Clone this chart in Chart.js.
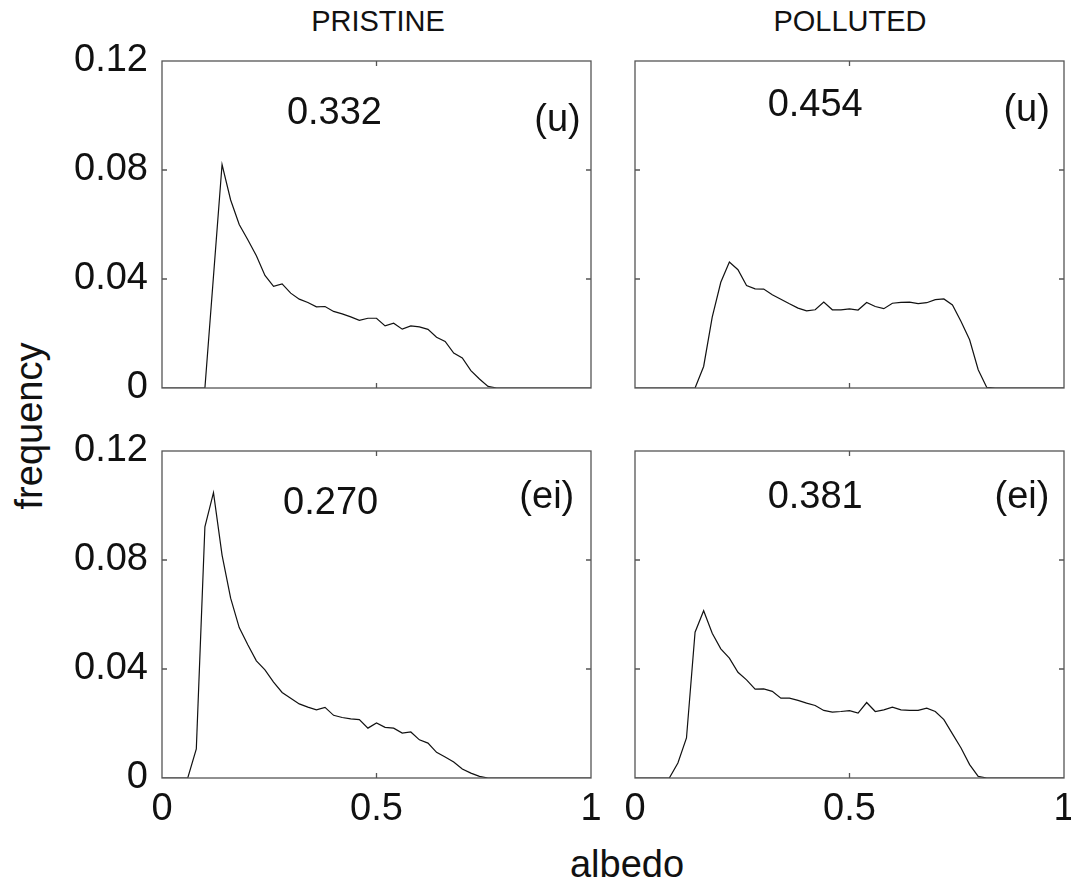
<!DOCTYPE html>
<html>
<head>
<meta charset="utf-8">
<script src="https://cdn.jsdelivr.net/npm/chart.js@4.4.1/dist/chart.umd.min.js"></script>
<style>
  html, body { margin: 0; padding: 0; background: #fff; overflow: hidden; }
  #fig { position: relative; width: 1071px; height: 881px; overflow: hidden;
         font-family: "Liberation Sans", Arial, sans-serif; color: #111; }
  #fig canvas { position: absolute; }
  .lbl { position: absolute; white-space: nowrap; line-height: 1; transform: translate(-50%, -50%); }
</style>
</head>
<body>
<div id="fig">
  <div class="lbl" style="left:378px; top:21px; font-size:29px;">PRISTINE</div>
  <div class="lbl" style="left:850px; top:21px; font-size:29px;">POLLUTED</div>
  <div class="lbl" style="left:29px; top:426px; font-size:38px; transform: translate(-50%, -50%) rotate(-90deg);">frequency</div>
  <div class="lbl" style="left:627px; top:864px; font-size:38px;">albedo</div>
  <canvas id="cTL" width="600" height="380" style="left:0; top:40px;"></canvas>
  <canvas id="cTR" width="480" height="380" style="left:600px; top:40px;"></canvas>
  <canvas id="cBL" width="600" height="451" style="left:0; top:430px;"></canvas>
  <canvas id="cBR" width="480" height="451" style="left:600px; top:430px;"></canvas>
</div>
<script>
// albedo bins (0.02 wide)
const albedo = [0, 0.02, 0.04, 0.06, 0.08, 0.10, 0.12, 0.14, 0.16, 0.18,
  0.20, 0.22, 0.24, 0.26, 0.28, 0.30, 0.32, 0.34, 0.36, 0.38,
  0.40, 0.42, 0.44, 0.46, 0.48, 0.50, 0.52, 0.54, 0.56, 0.58,
  0.60, 0.62, 0.64, 0.66, 0.68, 0.70, 0.72, 0.74, 0.76, 0.78,
  0.80, 0.82, 0.84, 0.86, 0.88, 0.90, 0.92, 0.94, 0.96, 0.98, 1.00];

const pristineU = [0, 0, 0, 0, 0, 0, 0.041, 0.082, 0.069, 0.060,
  0.0544, 0.0485, 0.0413, 0.0373, 0.0382, 0.0348, 0.0326, 0.0314, 0.0298, 0.0299,
  0.0281, 0.0272, 0.0261, 0.0248, 0.0256, 0.0256, 0.0228, 0.0238, 0.0216, 0.0228,
  0.0224, 0.0215, 0.0186, 0.0171, 0.0128, 0.011, 0.0064, 0.0033, 0.0006, 0,
  0, 0, 0, 0, 0, 0, 0, 0, 0, 0, 0];

const pollutedU = [0, 0, 0, 0, 0, 0, 0, 0, 0.0079, 0.026,
  0.0388, 0.0462, 0.0434, 0.0376, 0.0364, 0.0363, 0.0342, 0.0326, 0.0309, 0.0293,
  0.0283, 0.0287, 0.0315, 0.0287, 0.0287, 0.029, 0.0286, 0.0314, 0.0299, 0.0291,
  0.0311, 0.0314, 0.0315, 0.031, 0.0313, 0.0324, 0.0327, 0.0305, 0.0244, 0.0177,
  0.0067, 0.0002, 0, 0, 0, 0, 0, 0, 0, 0, 0];

const pristineEI = [0, 0, 0, 0, 0.0107, 0.0922, 0.1047, 0.0818, 0.066, 0.0552,
  0.0489, 0.043, 0.0397, 0.0352, 0.0314, 0.0293, 0.0272, 0.026, 0.025, 0.0259,
  0.023, 0.0222, 0.0217, 0.0214, 0.0183, 0.0202, 0.0186, 0.0183, 0.0165, 0.0169,
  0.014, 0.0128, 0.0094, 0.0077, 0.0059, 0.0033, 0.0018, 0.0006, 0, 0,
  0, 0, 0, 0, 0, 0, 0, 0, 0, 0, 0];

const pollutedEI = [0, 0, 0, 0, 0, 0.0055, 0.0147, 0.0535, 0.0614, 0.0531,
  0.0474, 0.044, 0.0388, 0.036, 0.0326, 0.0327, 0.0318, 0.0293, 0.0293, 0.0285,
  0.0275, 0.0266, 0.0248, 0.0242, 0.0244, 0.0247, 0.0238, 0.0277, 0.0244, 0.025,
  0.026, 0.025, 0.0248, 0.0248, 0.0256, 0.0244, 0.0214, 0.0162, 0.011, 0.0049,
  0.0006, 0, 0, 0, 0, 0, 0, 0, 0, 0, 0];

const meanAlbedo = ["0.332", "0.454", "0.270", "0.381"];
const caseLabels = ["(u)", "(u)", "(ei)", "(ei)"];

const xTicks = [0, 0.5, 1];
const xTickLabels = ["0", "0.5", "1"];
const yTicks = [0, 0.04, 0.08, 0.12];
const yTickLabels = ["0", "0.04", "0.08", "0.12"];

const FONT = "'Liberation Sans', Arial, sans-serif";
const tickFont = { family: FONT, size: 38, lineHeight: 1 };

// box with inward ticks on all sides, plus the text notes
const matlabAxes = {
  id: "matlabAxes",
  afterDraw(chart, args, opts) {
    const { ctx, chartArea: a } = chart;
    const xs = chart.scales.x, ys = chart.scales.y;
    ctx.save();
    ctx.strokeStyle = "#555";
    ctx.lineWidth = 1.3;
    ctx.strokeRect(a.left, a.top, a.right - a.left, a.bottom - a.top);
    ctx.beginPath();
    xs.ticks.forEach(t => {
      const px = xs.getPixelForValue(t.value);
      if (px <= a.left + 1 || px >= a.right - 1) return;
      ctx.moveTo(px, a.bottom); ctx.lineTo(px, a.bottom - 5);
      ctx.moveTo(px, a.top); ctx.lineTo(px, a.top + 5);
    });
    ys.ticks.forEach(t => {
      const py = ys.getPixelForValue(t.value);
      if (py <= a.top + 1 || py >= a.bottom - 1) return;
      ctx.moveTo(a.left, py); ctx.lineTo(a.left + 5, py);
      ctx.moveTo(a.right, py); ctx.lineTo(a.right - 5, py);
    });
    ctx.stroke();
    ctx.fillStyle = "#111";
    ctx.font = "38px " + FONT;
    ctx.textAlign = "center";
    ctx.textBaseline = "middle";
    (opts.notes || []).forEach(n => {
      ctx.fillText(n.text, xs.getPixelForValue(n.x), ys.getPixelForValue(n.y));
    });
    ctx.restore();
  }
};

function makePanel(id, values, cfg) {
  return new Chart(document.getElementById(id), {
    type: "line",
    data: {
      datasets: [{
        data: albedo.map((a, i) => ({ x: a, y: values[i] })),
        borderColor: "#111",
        borderWidth: 1.2,
        pointRadius: 0,
        tension: 0,
        fill: false
      }]
    },
    options: {
      responsive: false,
      animation: false,
      events: [],
      layout: { padding: { top: 21, right: cfg.padRight, left: 0, bottom: 0 } },
      plugins: {
        legend: { display: false },
        tooltip: { enabled: false },
        matlabAxes: { notes: cfg.notes }
      },
      scales: {
        x: {
          type: "linear", min: 0, max: 1,
          afterBuildTicks: s => { s.ticks = xTicks.map(v => ({ value: v })); },
          grid: { display: false, drawTicks: false },
          border: { display: false },
          ticks: {
            display: cfg.showX, padding: 13, autoSkip: false, maxRotation: 0,
            font: tickFont, color: "#111",
            callback: (v, i) => xTickLabels[i]
          },
          afterFit: s => { s.height = cfg.xHeight; s.paddingLeft = 0; s.paddingRight = 0; }
        },
        y: {
          type: "linear", min: 0, max: 0.12,
          afterBuildTicks: s => { s.ticks = yTicks.map(v => ({ value: v })); },
          grid: { display: false, drawTicks: false },
          border: { display: false },
          ticks: {
            display: cfg.showY, padding: 14, autoSkip: false,
            font: tickFont, color: "#111",
            callback: (v, i) => yTickLabels[i]
          },
          afterFit: s => { s.width = cfg.yWidth; s.paddingTop = 0; s.paddingBottom = 0; }
        }
      }
    },
    plugins: [matlabAxes]
  });
}

makePanel("cTL", pristineU, {
  padRight: 9, yWidth: 162, xHeight: 32, showX: false, showY: true,
  notes: [{ text: meanAlbedo[0], x: 0.402, y: 0.1009 }, { text: caseLabels[0], x: 0.922, y: 0.098 }]
});
makePanel("cTR", pollutedU, {
  padRight: 16, yWidth: 35, xHeight: 32, showX: false, showY: false,
  notes: [{ text: meanAlbedo[1], x: 0.42, y: 0.1035 }, { text: caseLabels[1], x: 0.913, y: 0.102 }]
});
makePanel("cBL", pristineEI, {
  padRight: 9, yWidth: 162, xHeight: 103, showX: true, showY: true,
  notes: [{ text: meanAlbedo[2], x: 0.393, y: 0.1009 }, { text: caseLabels[2], x: 0.897, y: 0.103 }]
});
makePanel("cBR", pollutedEI, {
  padRight: 16, yWidth: 35, xHeight: 103, showX: true, showY: false,
  notes: [{ text: meanAlbedo[3], x: 0.42, y: 0.1029 }, { text: caseLabels[3], x: 0.902, y: 0.103 }]
});
</script>
</body>
</html>
